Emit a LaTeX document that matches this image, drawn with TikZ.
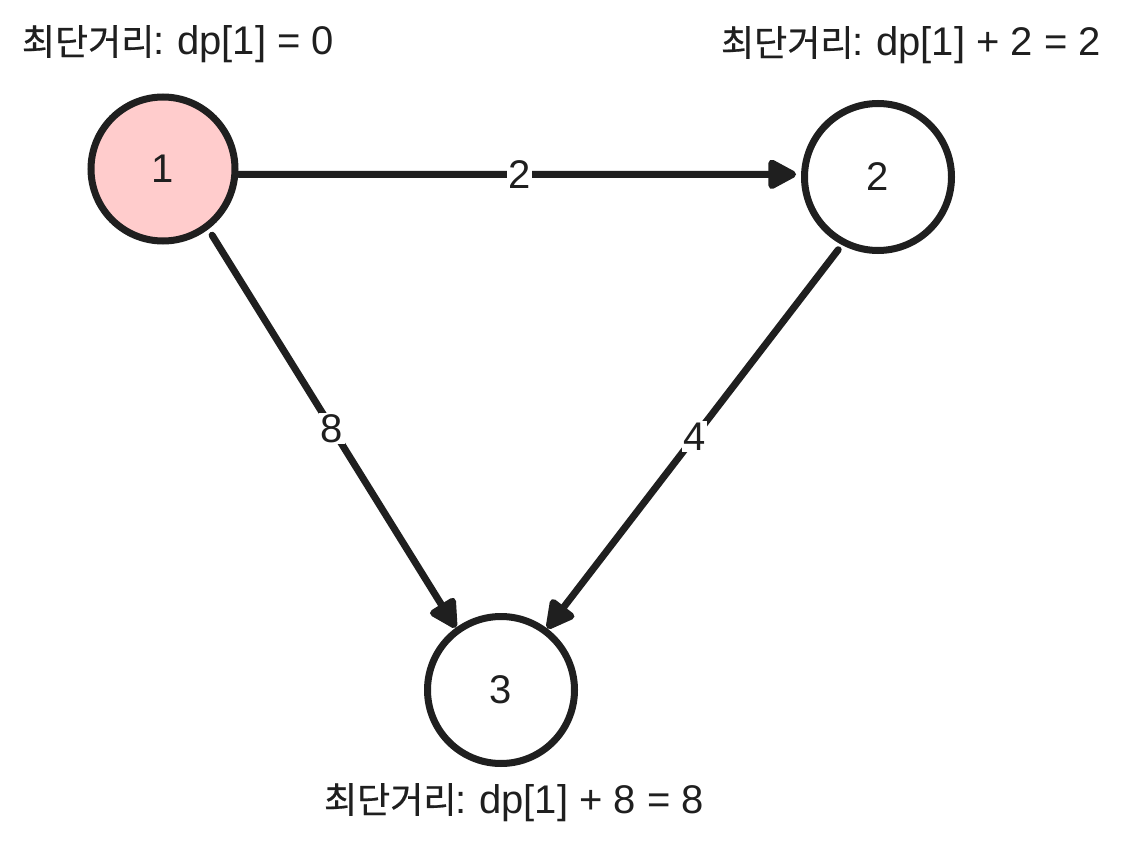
\documentclass[tikz,border=0pt]{standalone}
\usepackage{fontspec}
\setmainfont{Liberation Sans}
\newfontfamily\kr[Scale=0.9,FakeBold=0.5]{Noto Sans CJK KR}
\usetikzlibrary{arrows.meta}
\definecolor{ink}{HTML}{1F1F1F}
\definecolor{pinkfill}{HTML}{FFCCCC}
\tikzset{
  vnode/.style={circle, draw=ink, line width=7pt, text=ink, inner sep=0pt, font=\fontsize{40}{42}\selectfont},
  edge/.style={draw=ink, line width=7pt, line cap=round, -{Triangle[length=32pt,width=32pt,round]}},
  wlabel/.style={fill=white, inner sep=1.5pt, text=ink, font=\fontsize{40}{42}\selectfont},
  info/.style={anchor=base, text=ink, inner sep=0pt, font=\fontsize{40}{42}\selectfont},
}
\newcommand{\kor}{{\kr 최단거리}\hspace{-1pt}:\hspace{-2pt} }
\begin{document}
\begin{tikzpicture}[x=1pt,y=-1pt]
\useasboundingbox[fill=white] (0,0) rectangle (1125,853);
\node[vnode, fill=pinkfill, minimum size=144pt] (n1) at (163,169) {1};
\node[vnode, fill=white, minimum size=147pt] (n2) at (878,177) {2};
\node[vnode, fill=white, minimum size=147pt] (n3) at (501,690) {3};
\draw[edge, shorten >=5pt] (n1.-4.6) -- node[wlabel] (l12) {2} (n2.178.6);
\draw[edge, shorten <=7pt] (n1.-53.4) -- node[wlabel] (l13) {8} (n3.126.6);
\draw[edge, shorten <=6pt] (n2.-118.7) -- node[wlabel] (l23) {4} (n3.53.7);
\node[info] (t1) at (178,55) {\kor dp[1] = 0};
\node[info] (t2) at (911,56) {\kor dp[1] + 2 = 2};
\node[info] (t3) at (514,813) {\kor dp[1] + 8 = 8};
\end{tikzpicture}
\end{document}
